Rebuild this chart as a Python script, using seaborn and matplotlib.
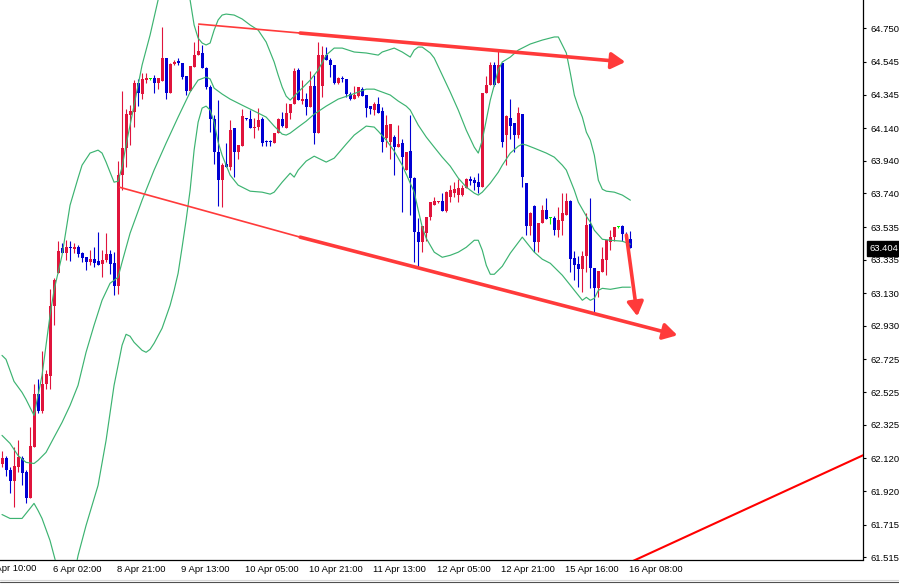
import numpy as np
import pandas as pd
import matplotlib
matplotlib.use("Agg")
import matplotlib.pyplot as plt
import seaborn as sns
from matplotlib.transforms import blended_transform_factory, offset_copy
from matplotlib.lines import Line2D

# ---------------- data (H1 candles, price) ----------------
bar_open = [
    62.083, 62.120, 62.047, 61.985, 62.065, 62.120, 62.034, 61.881, 62.187, 62.512,
    62.408, 62.573, 62.622, 63.050, 63.252, 63.405, 63.375, 63.411, 63.399, 63.411,
    63.375, 63.350, 63.320, 63.338, 63.326, 63.307, 63.332, 63.369, 63.313, 63.173,
    63.852, 64.017, 64.219, 64.238, 64.415, 64.348, 64.433, 64.440, 64.446, 64.415,
    64.427, 64.568, 64.354, 64.531, 64.550, 64.537, 64.458, 64.366, 64.513, 64.586,
    64.599, 64.507, 64.391, 64.195, 63.993, 63.821, 63.919, 63.901, 64.140, 63.993,
    64.029, 64.201, 64.195, 64.140, 64.146, 64.195, 64.060, 64.060, 64.048, 64.109,
    64.195, 64.140, 64.231, 64.287, 64.495, 64.305, 64.317, 64.268, 64.397, 64.109,
    64.397, 64.586, 64.556, 64.525, 64.415, 64.446, 64.440, 64.348, 64.317, 64.335,
    64.378, 64.342, 64.274, 64.250, 64.287, 64.244, 64.078, 64.054, 64.085, 64.023,
    64.048, 63.883, 63.999, 63.834, 63.503, 63.442, 63.497, 63.595, 63.668, 63.687,
    63.693, 63.632, 63.717, 63.742, 63.730, 63.730, 63.772, 63.828, 63.821, 63.809,
    63.779, 64.354, 64.403, 64.525, 64.415, 64.537, 64.097, 64.201, 64.170, 64.097,
    64.225, 63.803, 63.540, 63.662, 63.442, 63.558, 63.638, 63.589, 63.589, 63.515,
    63.570, 63.607, 63.693, 63.344, 63.307, 63.277, 63.356, 63.552, 63.283, 63.160,
    63.258, 63.332, 63.442, 63.473, 63.534, 63.540, 63.485, 63.460]
bar_high = [
    62.163, 62.132, 62.065, 62.187, 62.230, 62.132, 62.047, 62.310, 62.573, 62.604,
    62.775, 62.659, 63.154, 63.222, 63.448, 63.436, 63.454, 63.448, 63.436, 63.424,
    63.381, 63.350, 63.393, 63.411, 63.503, 63.393, 63.497, 63.393, 63.381, 63.938,
    64.366, 64.256, 64.280, 64.433, 64.440, 64.476, 64.476, 64.446, 64.464, 64.446,
    64.758, 64.568, 64.537, 64.556, 64.568, 64.537, 64.458, 64.519, 64.666, 64.770,
    64.648, 64.513, 64.403, 64.219, 64.311, 63.925, 64.048, 64.189, 64.140, 64.036,
    64.256, 64.201, 64.250, 64.201, 64.262, 64.207, 64.066, 64.066, 64.109, 64.201,
    64.238, 64.293, 64.287, 64.507, 64.507, 64.433, 64.354, 64.488, 64.464, 64.666,
    64.641, 64.635, 64.568, 64.525, 64.452, 64.458, 64.440, 64.360, 64.397, 64.391,
    64.391, 64.342, 64.274, 64.299, 64.329, 64.268, 64.219, 64.164, 64.097, 64.158,
    64.072, 63.993, 64.219, 63.840, 63.589, 63.540, 63.595, 63.687, 63.717, 63.693,
    63.742, 63.754, 63.791, 63.809, 63.828, 63.791, 63.834, 63.846, 63.840, 63.864,
    64.354, 64.458, 64.544, 64.544, 64.617, 64.537, 64.219, 64.317, 64.170, 64.268,
    64.225, 63.803, 63.626, 63.668, 63.558, 63.668, 63.711, 63.595, 63.601, 63.656,
    63.742, 63.742, 63.699, 63.387, 63.356, 63.387, 63.619, 63.711, 63.283, 63.264,
    63.411, 63.454, 63.515, 63.534, 63.540, 63.546, 63.503, 63.509]
bar_low = [
    62.065, 62.010, 61.906, 61.820, 62.034, 61.955, 61.845, 61.881, 62.187, 62.395,
    62.395, 62.542, 62.542, 62.934, 63.252, 63.375, 63.332, 63.326, 63.375, 63.350,
    63.320, 63.271, 63.301, 63.289, 63.301, 63.228, 63.320, 63.246, 63.118, 63.124,
    63.760, 63.901, 64.036, 64.146, 64.274, 64.317, 64.415, 64.433, 64.354, 64.378,
    64.427, 64.317, 64.354, 64.525, 64.525, 64.440, 64.342, 64.366, 64.513, 64.586,
    64.507, 64.378, 64.115, 63.919, 63.662, 63.656, 63.901, 63.883, 63.840, 63.950,
    64.029, 64.189, 64.140, 64.078, 64.127, 64.029, 64.029, 64.029, 64.048, 64.109,
    64.146, 64.140, 64.195, 64.287, 64.311, 64.287, 64.219, 64.268, 64.042, 64.109,
    64.329, 64.556, 64.452, 64.409, 64.409, 64.421, 64.329, 64.311, 64.317, 64.329,
    64.335, 64.207, 64.225, 64.219, 64.231, 63.993, 64.023, 63.950, 63.852, 64.023,
    63.626, 63.883, 63.607, 63.320, 63.289, 63.381, 63.448, 63.577, 63.668, 63.681,
    63.632, 63.626, 63.687, 63.717, 63.687, 63.723, 63.772, 63.791, 63.760, 63.742,
    63.779, 64.354, 64.403, 64.397, 64.415, 64.023, 63.913, 64.072, 63.993, 64.078,
    63.779, 63.485, 63.485, 63.381, 63.381, 63.558, 63.583, 63.552, 63.485, 63.473,
    63.485, 63.607, 63.258, 63.209, 63.167, 63.136, 63.258, 63.160, 63.014, 63.105,
    63.258, 63.240, 63.393, 63.448, 63.528, 63.448, 63.442, 63.405]
bar_close = [
    62.120, 62.047, 61.985, 62.071, 62.126, 62.028, 61.875, 62.193, 62.512, 62.408,
    62.573, 62.634, 63.050, 63.209, 63.387, 63.375, 63.411, 63.405, 63.411, 63.369,
    63.344, 63.320, 63.338, 63.313, 63.301, 63.332, 63.369, 63.307, 63.173, 63.852,
    64.017, 64.225, 64.244, 64.415, 64.354, 64.440, 64.446, 64.440, 64.415, 64.446,
    64.568, 64.354, 64.531, 64.544, 64.537, 64.452, 64.366, 64.519, 64.586, 64.611,
    64.507, 64.391, 64.195, 63.993, 63.821, 63.913, 63.901, 64.127, 63.993, 64.036,
    64.213, 64.195, 64.140, 64.146, 64.189, 64.048, 64.054, 64.054, 64.109, 64.195,
    64.152, 64.231, 64.287, 64.488, 64.311, 64.317, 64.268, 64.397, 64.109, 64.586,
    64.586, 64.556, 64.525, 64.415, 64.446, 64.440, 64.348, 64.317, 64.342, 64.391,
    64.335, 64.262, 64.256, 64.287, 64.231, 64.054, 64.158, 64.164, 64.023, 64.042,
    63.962, 63.993, 63.834, 63.503, 63.442, 63.540, 63.595, 63.687, 63.693, 63.693,
    63.632, 63.748, 63.760, 63.766, 63.772, 63.772, 63.828, 63.815, 63.803, 63.779,
    64.354, 64.403, 64.525, 64.403, 64.525, 64.054, 64.213, 64.152, 64.097, 64.231,
    63.840, 63.540, 63.619, 63.442, 63.558, 63.638, 63.583, 63.589, 63.515, 63.577,
    63.619, 63.693, 63.338, 63.301, 63.277, 63.356, 63.546, 63.283, 63.160, 63.264,
    63.338, 63.454, 63.473, 63.534, 63.534, 63.491, 63.460, 63.404]

# Bollinger bands (bar index, price)
upper_idx = [0, 1, 3, 5, 6, 8, 10, 12, 13, 15, 17, 19, 20, 22, 24, 25, 26, 27, 28, 29,
             30, 31, 32, 33, 35, 37, 39, 42, 44, 46, 47, 48, 49, 50, 51, 52, 53, 54, 55, 56,
             58, 60, 62, 64, 66, 67, 68, 69, 70, 71, 72, 73, 74, 75, 77, 79, 81, 83, 85, 88,
             91, 94, 95, 98, 100, 102, 103, 104, 105, 107, 108, 110, 112, 114, 116, 118, 119, 120, 121, 122,
             123, 124, 125, 127, 129, 132, 135, 138, 139, 140, 141, 142, 143, 144, 145, 146, 147, 148, 149, 150,
             151, 153, 155, 157]
upper_val = [62.750, 62.726, 62.591, 62.524, 62.481, 62.383, 62.628, 62.995, 63.148, 63.362,
             63.668, 63.834, 63.913, 63.987, 64.005, 63.987, 63.932, 63.870, 63.809, 63.815,
             63.901, 64.036, 64.158, 64.280, 64.525, 64.709, 64.923, 65.168, 65.137, 65.015,
             64.923, 64.770, 64.690, 64.660, 64.648, 64.660, 64.739, 64.801, 64.831, 64.837,
             64.831, 64.807, 64.770, 64.739, 64.666, 64.605, 64.544, 64.464, 64.391, 64.335,
             64.311, 64.335, 64.360, 64.384, 64.433, 64.495, 64.586, 64.629, 64.629, 64.605,
             64.599, 64.586, 64.605, 64.629, 64.605, 64.574, 64.617, 64.635, 64.635, 64.599,
             64.568, 64.464, 64.360, 64.250, 64.127, 64.023, 63.987, 64.066, 64.189, 64.311,
             64.403, 64.495, 64.544, 64.574, 64.617, 64.654, 64.678, 64.697, 64.697, 64.648,
             64.599, 64.476, 64.342, 64.268, 64.207, 64.115, 64.066, 63.974, 63.821, 63.766,
             63.754, 63.748, 63.730, 63.699]
mid_idx = [0, 2, 4, 6, 8, 9, 11, 13, 15, 17, 19, 21, 23, 25, 27, 28, 29, 30, 32, 35,
           38, 41, 44, 47, 49, 51, 52, 53, 55, 57, 60, 63, 66, 68, 70, 71, 72, 74, 76, 78,
           81, 84, 87, 91, 93, 95, 97, 99, 101, 102, 104, 106, 108, 110, 112, 114, 116, 118, 119, 120,
           122, 124, 125, 127, 129, 130, 131, 133, 136, 138, 140, 141, 143, 144, 146, 147, 148, 150, 152, 155,
           157]
mid_val = [62.261, 62.212, 62.138, 62.096, 62.089, 62.108, 62.157, 62.249, 62.340, 62.444,
           62.567, 62.769, 62.934, 63.087, 63.191, 63.209, 63.228, 63.320, 63.497, 63.699,
           63.883, 64.048, 64.207, 64.360, 64.433, 64.452, 64.440, 64.384, 64.348, 64.317,
           64.280, 64.244, 64.207, 64.152, 64.103, 64.097, 64.109, 64.146, 64.182, 64.225,
           64.274, 64.317, 64.342, 64.378, 64.378, 64.360, 64.342, 64.305, 64.274, 64.250,
           64.158, 64.085, 64.023, 63.962, 63.907, 63.834, 63.779, 63.742, 63.730, 63.748,
           63.803, 63.870, 63.913, 63.987, 64.029, 64.042, 64.036, 64.017, 63.987, 63.962,
           63.913, 63.883, 63.760, 63.687, 63.601, 63.564, 63.515, 63.460, 63.454, 63.448,
           63.430]
lower_idx = [0, 2, 5, 7, 8, 9, 10, 12, 13, 14, 16, 18, 19, 21, 24, 26, 28, 29, 30, 31,
             32, 33, 35, 36, 37, 38, 40, 42, 43, 44, 45, 46, 47, 48, 49, 50, 51, 52, 53, 54,
             55, 57, 59, 62, 65, 67, 68, 70, 72, 73, 74, 76, 78, 80, 81, 83, 86, 88, 91, 93,
             94, 96, 98, 100, 102, 103, 104, 105, 106, 108, 110, 112, 114, 116, 118, 119, 120, 121, 122, 123,
             125, 127, 130, 131, 133, 135, 137, 140, 142, 143, 145, 146, 147, 148, 149, 150, 152, 155, 157]
lower_val = [61.777, 61.753, 61.753, 61.814, 61.845, 61.802, 61.753, 61.618, 61.526, 61.435,
             61.312, 61.404, 61.526, 61.710, 61.955, 62.230, 62.567, 62.689, 62.812, 62.879,
             62.867, 62.830, 62.781, 62.769, 62.787, 62.824, 62.916, 63.056, 63.148, 63.252,
             63.411, 63.577, 63.760, 64.005, 64.176, 64.262, 64.274, 64.250, 64.176, 64.054,
             63.974, 63.852, 63.791, 63.754, 63.748, 63.736, 63.748, 63.809, 63.864, 63.840,
             63.883, 63.938, 63.968, 63.944, 63.932, 63.956, 64.042, 64.097, 64.152, 64.146,
             64.121, 64.066, 63.999, 63.913, 63.803, 63.748, 63.638, 63.534, 63.466, 63.381,
             63.350, 63.362, 63.381, 63.411, 63.454, 63.454, 63.393, 63.301, 63.246, 63.246,
             63.295, 63.375, 63.473, 63.442, 63.381, 63.338, 63.313, 63.240, 63.179, 63.148,
             63.087, 63.105, 63.087, 63.099, 63.148, 63.160, 63.154, 63.167, 63.167]

# hand-drawn objects (bar index, price)
trend_upper_thin = ([49.0, 74.5], [64.776, 64.721])
arrow_upper = ([74.5, 155.75], [64.721, 64.544])
trend_lower_thin = ([29.25, 74.5], [63.779, 63.473])
arrow_lower = ([74.5, 168.75], [63.473, 62.873])
arrow_down = ([156.0, 158.75], [63.485, 62.989])
line_bottom = ([155.0, 220.0], [61.463, 62.194])

time_tick_idx = [-3, 13, 29, 45, 61, 77, 93, 109, 125, 141, 157]
time_tick_lbl = ["5 Apr 10:00", "6 Apr 02:00", "8 Apr 21:00", "9 Apr 13:00", "10 Apr 05:00",
                 "10 Apr 21:00", "11 Apr 13:00", "12 Apr 05:00", "12 Apr 21:00",
                 "15 Apr 16:00", "16 Apr 08:00"]
price_ticks = [64.750, 64.545, 64.345, 64.140, 63.940, 63.740, 63.535, 63.335, 63.130,
               62.930, 62.725, 62.525, 62.325, 62.120, 61.920, 61.715, 61.515]
last_price = 63.404

# ---------------- style ----------------
sns.set_style("white")
plt.rcParams['font.family'] = ['Liberation Sans', 'DejaVu Sans']
RED = "#E0143C"
BLUE = "#0000D2"
LIME = "#00EE00"
BAND = "#3CB371"
TL = "#FF3A3A"
FS = 6.8

fig = plt.figure(figsize=(8.99, 5.84), dpi=100)
W, H = 899.0, 584.0
ax = fig.add_axes([0, (H - 559.5) / H, 862.5 / W, 559.5 / H])
ax.set_facecolor("white")

o = np.array(bar_open); c = np.array(bar_close)
h = np.array(bar_high); l = np.array(bar_low)
idx = np.arange(len(c))
cols = np.where(c > o, RED, np.where(c < o, BLUE, LIME))

ax.vlines(idx, l, h, colors=cols, linewidth=0.8, zorder=3)
body_bot = np.minimum(o, c)
body_h = np.maximum(np.abs(c - o), 0.0064)
ax.bar(idx, body_h, bottom=body_bot, width=0.75, color=cols, linewidth=0, zorder=4)

for bi, bv in ((upper_idx, upper_val), (mid_idx, mid_val), (lower_idx, lower_val)):
    df = pd.DataFrame({"bar": bi, "price": bv})
    sns.lineplot(data=df, x="bar", y="price", ax=ax, color=BAND, linewidth=0.85,
                 sort=False, estimator=None, zorder=5)

# trend lines & arrows
ax.plot(*trend_upper_thin, color=TL, lw=1.2, zorder=6, solid_capstyle="butt")
ax.plot(*trend_lower_thin, color=TL, lw=1.2, zorder=6, solid_capstyle="butt")
for (xs, ys) in (arrow_upper, arrow_lower, arrow_down):
    ax.annotate("", xy=(xs[1], ys[1]), xytext=(xs[0], ys[0]),
                arrowprops=dict(arrowstyle="-|>,head_length=0.6,head_width=0.35",
                                color=TL, lw=2.6, shrinkA=0, shrinkB=0,
                                mutation_scale=14), zorder=6)
ax.plot(*line_bottom, color="#FF0000", lw=1.5, zorder=6)

ax.set_xlim(-0.5, 215.0)
ax.set_ylim(61.502, 64.923)
ax.set_xlabel(""); ax.set_ylabel("")

# axes / ticks
for s in ("top", "left"):
    ax.spines[s].set_visible(False)
for s in ("right", "bottom"):
    ax.spines[s].set_color("black")
    ax.spines[s].set_linewidth(0.9)

ax.yaxis.tick_right()
ax.set_yticks(price_ticks)
ax.set_yticklabels([f"{v:.3f}" for v in price_ticks])
ax.tick_params(axis="y", direction="out", length=2.5, width=0.8, pad=3.2,
               labelsize=FS, colors="black", right=True, left=False)

vis = [(i, t) for i, t in zip(time_tick_idx, time_tick_lbl) if i >= 0]
ax.set_xticks([i for i, _ in vis])
ax.set_xticklabels([t for _, t in vis], ha="left")
ax.tick_params(axis="x", direction="out", length=3, width=0.8, pad=1.2,
               labelsize=FS, colors="black")
for lab in ax.get_xticklabels():
    lab.set_horizontalalignment("left")
    lab.set_transform(lab.get_transform() + matplotlib.transforms.ScaledTranslation(-1.5 / 100, 0, fig.dpi_scale_trans))
# first (partially visible) time label
for i, t in zip(time_tick_idx, time_tick_lbl):
    if i < 0:
        tr = blended_transform_factory(ax.transData, ax.transAxes)
        ax.text(i, 0, t, transform=offset_copy(tr, fig=fig, x=-1.5, y=-4.3 - 0.5, units="dots"),
                ha="left", va="top", fontsize=FS, color="black", clip_on=False)

# last price tag
trp = blended_transform_factory(ax.transAxes, ax.transData)
ax.text(1.0, last_price, f"{last_price:.3f}",
        transform=offset_copy(trp, fig=fig, x=7.5, y=0, units="dots"),
        ha="left", va="center", fontsize=FS, color="white", zorder=20, clip_on=False,
        bbox=dict(boxstyle="square,pad=0.3", fc="black", ec="black"))

# window frame lines at the bottom
fig.add_artist(Line2D([0, 1], [1 - 580 / H, 1 - 580 / H], transform=fig.transFigure,
                      color="#D8D8D8", lw=0.8))
fig.add_artist(Line2D([0, 1], [1 - 582 / H, 1 - 582 / H], transform=fig.transFigure,
                      color="#505050", lw=0.8))

fig.savefig("out.png", dpi=100, facecolor="white")
